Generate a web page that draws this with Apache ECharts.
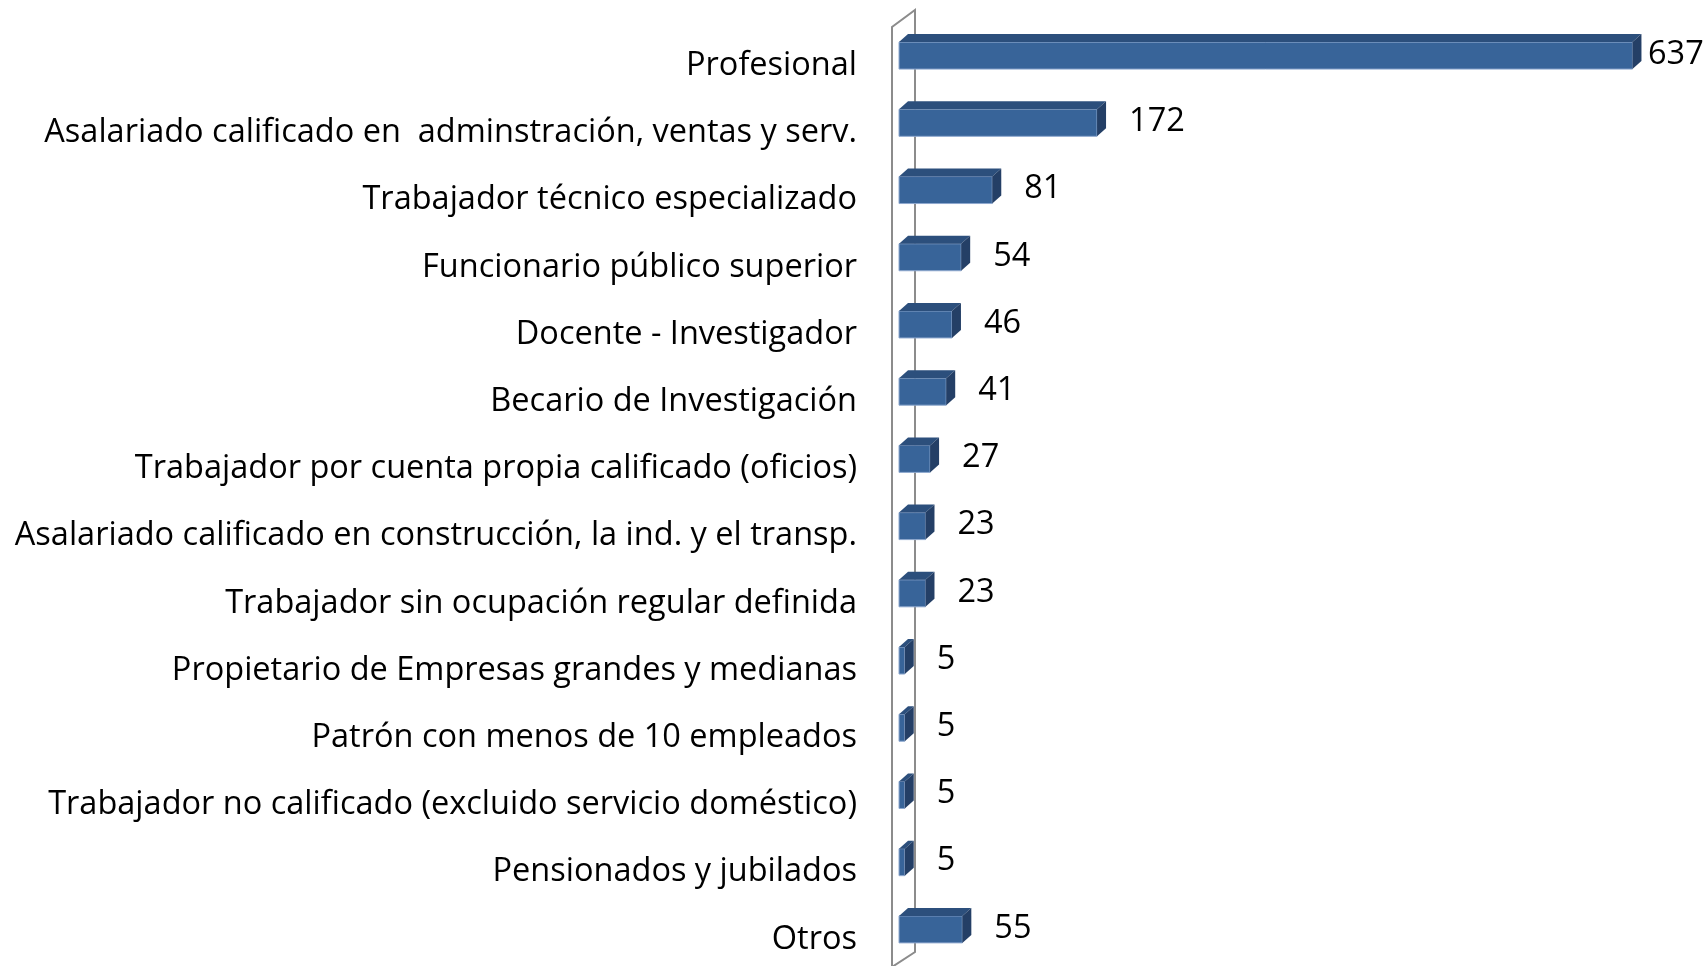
<!DOCTYPE html>
<html>
<head>
<meta charset="utf-8">
<script src="https://cdn.jsdelivr.net/npm/echarts@6/dist/echarts.min.js"></script>
<style>
html,body{margin:0;padding:0;background:#fff;}
#chart{width:1708px;height:966px;}
</style>
</head>
<body>
<div id="chart"></div>
<script>
const categories = [
  'Profesional',
  'Asalariado calificado en  adminstración, ventas y serv.',
  'Trabajador técnico especializado',
  'Funcionario público superior',
  'Docente - Investigador',
  'Becario de Investigación',
  'Trabajador por cuenta propia calificado (oficios)',
  'Asalariado calificado en construcción, la ind. y el transp.',
  'Trabajador sin ocupación regular definida',
  'Propietario de Empresas grandes y medianas',
  'Patrón con menos de 10 empleados',
  'Trabajador no calificado (excluido servicio doméstico)',
  'Pensionados y jubilados',
  'Otros'
];
const values = [637, 172, 81, 54, 46, 41, 27, 23, 23, 5, 5, 5, 5, 55];

const FONT = '"Open Sans"';
const FRONT = '#386499';
const TOP = '#2c4f7c';
const SIDE = '#243f66';
const DX = 9, DY = 8, BAR_H = 27;

const chart = echarts.init(document.getElementById('chart'), null, {renderer: 'canvas'});

function renderBar(params, api) {
  const v = api.value(0);
  const idx = api.value(1);
  const s = api.coord([0, idx]);
  const e = api.coord([v, idx]);
  const x0 = s[0], x1 = e[0], yc = s[1];
  const top = yc - BAR_H / 2, bot = yc + BAR_H / 2;
  const labelX = Math.min(x1 + DX + 23, api.getWidth() - 60);
  return {
    type: 'group',
    children: [
      {type: 'rect', shape: {x: x0, y: top, width: x1 - x0, height: BAR_H},
       style: {fill: FRONT, stroke: '#8fa9cf', lineWidth: 1}},
      {type: 'polygon', shape: {points: [[x0, top], [x0 + DX, top - DY], [x1 + DX, top - DY], [x1, top]]},
       style: {fill: TOP}},
      {type: 'polygon', shape: {points: [[x1, top], [x1 + DX, top - DY], [x1 + DX, bot - DY], [x1, bot]]},
       style: {fill: SIDE}},
      {type: 'text', style: {x: labelX, y: yc - 1, text: String(v), fill: '#000',
        font: '32.5px ' + FONT, textAlign: 'left', textVerticalAlign: 'middle'}}
    ]
  };
}

function renderWall(params, api) {
  const cs = params.coordSys;
  const xf = cs.x - 7, xb = cs.x + 16;
  const yfTop = cs.y + 5, ybTop = cs.y - 12;
  const yfBot = cs.y + cs.height + 4, ybBot = cs.y + cs.height - 11;
  return {
    type: 'polyline',
    shape: {points: [[xf, yfBot], [xf, yfTop], [xb, ybTop], [xb, ybBot], [xf, yfBot]]},
    style: {stroke: '#8c8c8c', lineWidth: 2, fill: null}
  };
}

chart.setOption({
  animation: false,
  grid: {left: 899, top: 22, width: 806, height: 941, containLabel: false},
  xAxis: {type: 'value', min: 0, max: 700, show: false},
  yAxis: {
    type: 'category', data: categories, inverse: true,
    axisLine: {show: false}, axisTick: {show: false}, splitLine: {show: false},
    axisLabel: {margin: 42, color: '#000', fontFamily: FONT, fontSize: 32.5,
      verticalAlign: 'top', lineHeight: 20}
  },
  series: [
    {type: 'custom', renderItem: renderWall, data: [[0, 0]], z: 1, silent: true},
    {type: 'custom', renderItem: renderBar, z: 2,
     data: values.map((v, i) => [v, i]), encode: {x: 0, y: 1}}
  ]
});
</script>
</body>
</html>
